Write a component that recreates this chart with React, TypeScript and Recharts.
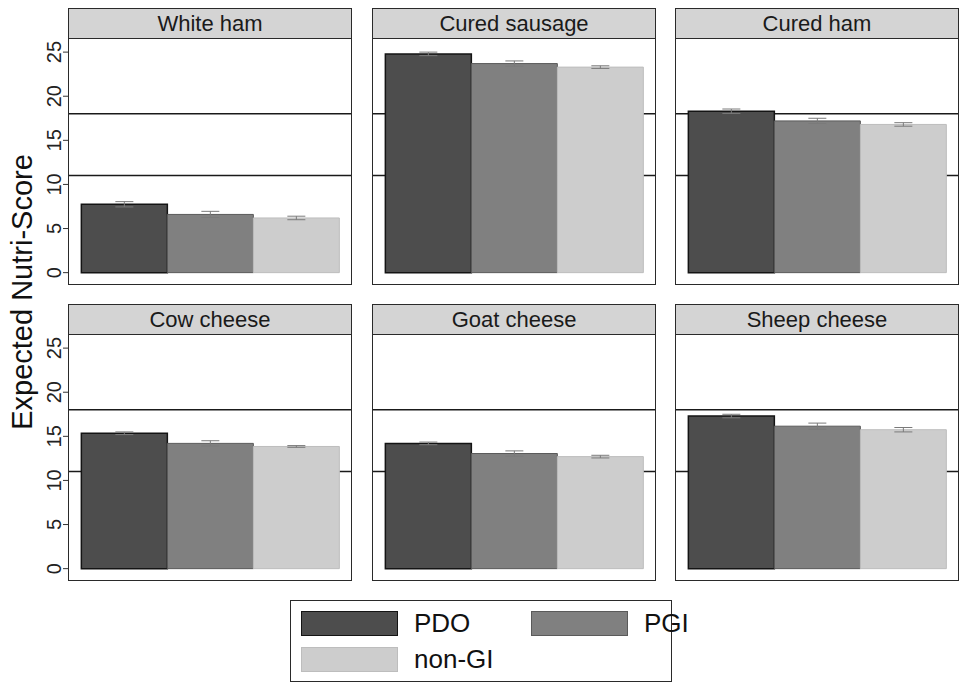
import React from 'react';
import { BarChart, Bar, XAxis, YAxis, ReferenceLine, ErrorBar } from 'recharts';

// Datos
const categories = ['White ham', 'Cured sausage', 'Cured ham', 'Cow cheese', 'Goat cheese', 'Sheep cheese'];
const pdoValues = [7.75, 24.8, 18.3, 15.35, 14.2, 17.3];
const pgiValues = [6.6, 23.7, 17.2, 14.2, 13.05, 16.15];
const nonGiValues = [6.2, 23.3, 16.8, 13.85, 12.7, 15.75];
const pdoErrors = [0.3, 0.2, 0.25, 0.15, 0.15, 0.2];
const pgiErrors = [0.35, 0.3, 0.3, 0.3, 0.3, 0.35];
const nonGiErrors = [0.2, 0.15, 0.2, 0.1, 0.15, 0.25];
const yTicks = [0, 5, 10, 15, 20, 25];
const thresholds = [11, 18];
const seriesNames = ['PDO', 'PGI', 'non-GI'];

const colors = {
  pdo: '#4d4d4d',
  pdoStroke: '#141414',
  pgi: '#808080',
  pgiStroke: '#5a5a5a',
  nonGi: '#cdcdcd',
  nonGiStroke: '#bdbdbd',
  header: '#d4d4d4',
  border: '#2a2a2a',
  error: '#7a7a7a',
};

const font = '"Liberation Sans", Arial, sans-serif';

const colLefts = [68, 372, 675];
const rowTops = [8, 304];
const boxW = 284;
const headerH = 30;
const boxH = 247;
const axisW = 68;
const yDomain: [number, number] = [-1.4, 26.6];

const RotatedTick = (props: any) => {
  const { x, y, payload } = props;
  return (
    <text
      x={x}
      y={y}
      transform={`rotate(-90, ${x}, ${y})`}
      textAnchor="middle"
      fontSize={20}
      fontFamily={font}
      fill="#222"
    >
      {payload.value}
    </text>
  );
};

const Panel: React.FC<{ index: number; left: number; top: number; showAxis: boolean }> = ({ index, left, top, showAxis }) => {
  const data = [
    {
      name: categories[index],
      pdo: pdoValues[index],
      pgi: pgiValues[index],
      nonGi: nonGiValues[index],
      pdoErr: pdoErrors[index],
      pgiErr: pgiErrors[index],
      nonGiErr: nonGiErrors[index],
    },
  ];
  const yw = showAxis ? axisW : 0;
  const chartProps = {
    width: yw + boxW,
    height: boxH,
    data,
    margin: { top: 0, right: 0, bottom: 0, left: 0 },
    barCategoryGap: '4.7%',
    barGap: 0,
  };
  return (
    <div style={{ position: 'absolute', left: left - yw, top }}>
      <div
        style={{
          position: 'absolute',
          left: yw,
          top: 0,
          width: boxW,
          height: headerH,
          boxSizing: 'border-box',
          border: `1.5px solid ${colors.border}`,
          borderBottom: 'none',
          background: colors.header,
          fontSize: 22,
          lineHeight: `${headerH}px`,
          textAlign: 'center',
          color: '#1a1a1a',
        }}
      >
        {categories[index]}
      </div>
      {/* capa de fondo: eje y líneas de umbral */}
      <div style={{ position: 'absolute', left: 0, top: headerH }}>
        <BarChart {...chartProps}>
          <XAxis dataKey="name" hide />
          <YAxis
            hide={!showAxis}
            width={yw}
            domain={yDomain}
            ticks={yTicks}
            axisLine={false}
            tickLine={{ stroke: '#333' }}
            tickSize={5}
            tickMargin={2}
            tick={<RotatedTick />}
            allowDataOverflow
          />
          {thresholds.map((t) => (
            <ReferenceLine key={t} y={t} stroke="#1a1a1a" strokeWidth={1.5} />
          ))}
        </BarChart>
      </div>
      {/* capa de barras por encima */}
      <div style={{ position: 'absolute', left: 0, top: headerH }}>
        <BarChart {...chartProps}>
          <XAxis dataKey="name" hide />
          <YAxis hide={!showAxis} width={yw} domain={yDomain} ticks={yTicks} tick={false} axisLine={false} tickLine={false} allowDataOverflow />
          <Bar dataKey="pdo" name={seriesNames[0]} fill={colors.pdo} stroke={colors.pdoStroke} strokeWidth={1.5} isAnimationActive={false}>
            <ErrorBar dataKey="pdoErr" width={9} stroke={colors.error} strokeWidth={1} />
          </Bar>
          <Bar dataKey="pgi" name={seriesNames[1]} fill={colors.pgi} stroke={colors.pgiStroke} strokeWidth={1} isAnimationActive={false}>
            <ErrorBar dataKey="pgiErr" width={9} stroke={colors.error} strokeWidth={1} />
          </Bar>
          <Bar dataKey="nonGi" name={seriesNames[2]} fill={colors.nonGi} stroke={colors.nonGiStroke} strokeWidth={1} isAnimationActive={false}>
            <ErrorBar dataKey="nonGiErr" width={9} stroke={colors.error} strokeWidth={1} />
          </Bar>
        </BarChart>
      </div>
      <div
        style={{
          position: 'absolute',
          left: yw,
          top: headerH,
          width: boxW,
          height: boxH,
          boxSizing: 'border-box',
          border: `1.5px solid ${colors.border}`,
          pointerEvents: 'none',
        }}
      />
    </div>
  );
};

const Swatch: React.FC<{ left: number; top: number; fill: string; stroke: string; label: string }> = ({ left, top, fill, stroke, label }) => (
  <>
    <div
      style={{
        position: 'absolute',
        left,
        top,
        width: 97,
        height: 25,
        boxSizing: 'border-box',
        background: fill,
        border: `1.5px solid ${stroke}`,
      }}
    />
    <div style={{ position: 'absolute', left: left + 113, top: top - 3, fontSize: 26, lineHeight: '30px', color: '#111' }}>
      {label}
    </div>
  </>
);

export default function App() {
  return (
    <div
      style={{
        position: 'absolute',
        left: 0,
        top: 0,
        width: 959,
        height: 684,
        background: '#fff',
        fontFamily: font,
        overflow: 'hidden',
      }}
    >
      {categories.map((c, i) => (
        <Panel key={c} index={i} left={colLefts[i % 3]} top={rowTops[Math.floor(i / 3)]} showAxis={i % 3 === 0} />
      ))}
      <svg width={40} height={340} style={{ position: 'absolute', left: 0, top: 122 }}>
        <text
          x={32}
          y={170}
          transform="rotate(-90, 32, 170)"
          textAnchor="middle"
          fontSize={29}
          fontFamily={font}
          fill="#111"
        >
          Expected Nutri-Score
        </text>
      </svg>
      <div
        style={{
          position: 'absolute',
          left: 290,
          top: 600,
          width: 382,
          height: 82,
          boxSizing: 'border-box',
          border: `1.5px solid ${colors.border}`,
        }}
      />
      <Swatch left={301} top={611} fill={colors.pdo} stroke={colors.pdoStroke} label={seriesNames[0]} />
      <Swatch left={531} top={611} fill={colors.pgi} stroke={colors.pgiStroke} label={seriesNames[1]} />
      <Swatch left={301} top={647} fill={colors.nonGi} stroke={colors.nonGiStroke} label={seriesNames[2]} />
    </div>
  );
}
